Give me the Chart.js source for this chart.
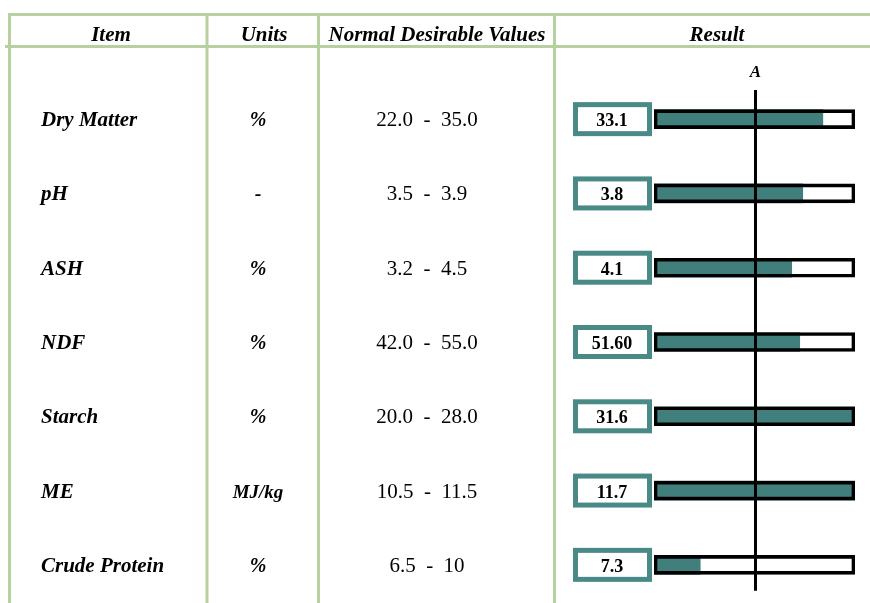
<!DOCTYPE html>
<html>
<head>
<meta charset="utf-8">
<script src="https://cdn.jsdelivr.net/npm/chart.js@4.4.1/dist/chart.umd.min.js"></script>
<style>
  html, body { margin: 0; padding: 0; background: #fff; }
  #wrap { position: relative; width: 870px; height: 603px; }
</style>
</head>
<body>
<div id="wrap"><canvas id="resultChart"></canvas></div>
<script>
// Table / chart data
const items = ['Dry Matter', 'pH', 'ASH', 'NDF', 'Starch', 'ME', 'Crude Protein'];
const units = ['%', '-', '%', '%', '%', 'MJ/kg', '%'];
const normalRanges = ['22.0  -  35.0', '3.5  -  3.9', '3.2  -  4.5', '42.0  -  55.0', '20.0  -  28.0', '10.5  -  11.5', '6.5  -  10'];
const resultLabels = ['33.1', '3.8', '4.1', '51.60', '31.6', '11.7', '7.3'];
// bar fill, as percent of the scale shown in the Result column
const barFill = [84, 74, 68.5, 72.5, 100, 100, 23];
const scaleFull = [100, 100, 100, 100, 100, 100, 100];
const headers = ['Item', 'Units', 'Normal Desirable Values', 'Result'];
const markerValue = 50;
const markerLabel = 'A';

const GREEN = '#b7d0a0';
const TEAL = '#417f7c';
const BOX_TEAL = '#4a8a86';
const SERIF = '"Liberation Serif", "Times New Roman", serif';

// Table grid + text columns, positioned on the chart's own y scale
const tablePlugin = {
    id: 'tablePlugin',
    beforeDraw(chart) {
        const ctx = chart.ctx;
        ctx.save();
        ctx.strokeStyle = GREEN;
        ctx.lineWidth = 3;
        ctx.beginPath();
        ctx.moveTo(8, 14.5); ctx.lineTo(870, 14.5);
        ctx.moveTo(5, 46.5); ctx.lineTo(870, 46.5);
        [9.5, 207, 318.5, 554.5].forEach(x => {
            ctx.moveTo(x, 13); ctx.lineTo(x, 603);
        });
        ctx.stroke();

        // headers
        ctx.fillStyle = '#000';
        ctx.textBaseline = 'alphabetic';
        ctx.textAlign = 'center';
        ctx.font = 'italic bold 21px ' + SERIF;
        const headerX = [111, 264, 437, 717];
        headers.forEach((h, i) => ctx.fillText(h, headerX[i], 41));
        ctx.restore();
    },
    afterDraw(chart) {
        const ctx = chart.ctx;
        const yScale = chart.scales.y;
        ctx.save();
        ctx.fillStyle = '#000';
        ctx.textBaseline = 'alphabetic';
        items.forEach((name, i) => {
            const y = yScale.getPixelForValue(i);
            ctx.textAlign = 'left';
            ctx.font = 'italic bold 21px ' + SERIF;
            ctx.fillText(name, 41, y + 7);

            ctx.textAlign = 'center';
            ctx.font = 'italic bold ' + (units[i].length > 2 ? 19 : 20) + 'px ' + SERIF;
            ctx.fillText(units[i], 258, y + 7);

            ctx.font = '21px ' + SERIF;
            ctx.fillText(normalRanges[i], 427, y + 7);

            // value box
            ctx.lineWidth = 5;
            ctx.strokeStyle = BOX_TEAL;
            ctx.fillStyle = '#fff';
            ctx.fillRect(575.5, y - 14.5, 74, 29);
            ctx.strokeRect(575.5, y - 14.5, 74, 29);
            ctx.fillStyle = '#000';
            ctx.font = 'bold 18px ' + SERIF;
            ctx.fillText(resultLabels[i], 612, y + 7);
        });
        ctx.restore();
    },
    afterDatasetsDraw(chart) {
        const ctx = chart.ctx;
        const x = Math.round(chart.scales.x.getPixelForValue(markerValue)) + 0.5;
        const yScale = chart.scales.y;
        const top = chart.chartArea.top + 8;
        const bottom = yScale.getPixelForValue(items.length - 1) + 26;
        ctx.save();
        ctx.strokeStyle = '#000';
        ctx.lineWidth = 3;
        ctx.beginPath();
        ctx.moveTo(x, top);
        ctx.lineTo(x, bottom);
        ctx.stroke();
        ctx.fillStyle = '#000';
        ctx.textAlign = 'center';
        ctx.textBaseline = 'alphabetic';
        ctx.font = 'italic bold 17px ' + SERIF;
        ctx.fillText(markerLabel, x, top - 13);
        ctx.restore();
    }
};

const ctx = document.getElementById('resultChart').getContext('2d');
new Chart(ctx, {
    type: 'bar',
    data: {
        labels: items,
        datasets: [
            {
                label: 'Result',
                data: barFill,
                backgroundColor: TEAL,
                borderWidth: 0,
                barThickness: 19,
                grouped: false,
                order: 2
            },
            {
                label: 'Scale',
                data: scaleFull,
                backgroundColor: 'rgba(0,0,0,0)',
                borderColor: '#000',
                borderWidth: 3,
                borderSkipped: false,
                barThickness: 19,
                grouped: false,
                order: 1
            }
        ]
    },
    options: {
        indexAxis: 'y', // horizontal bars
        responsive: true,
        maintainAspectRatio: false,
        animation: false,
        layout: { padding: { left: 654, right: 15, top: 82, bottom: 1 } },
        plugins: {
            legend: { display: false },
            tooltip: { enabled: false }
        },
        scales: {
            x: { display: false, min: 0, max: 100 },
            y: { display: false }
        }
    },
    plugins: [tablePlugin]
});
</script>
</body>
</html>
